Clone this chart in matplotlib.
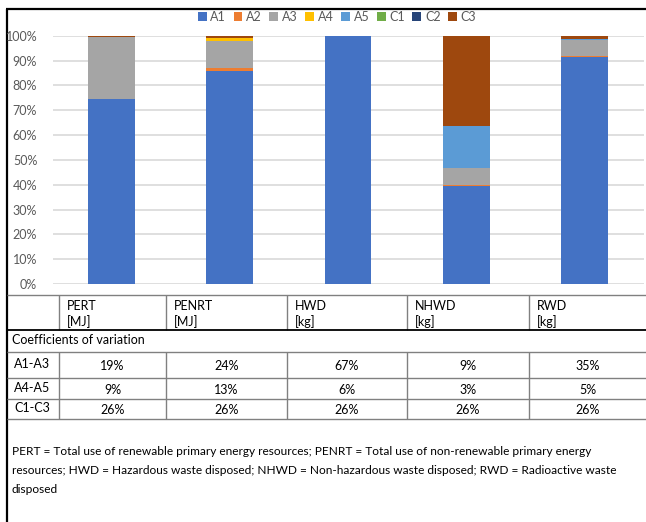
import matplotlib.pyplot as plt
from matplotlib.ticker import PercentFormatter

# data (share of each module, %)
categories = ['PERT', 'PENRT', 'HWD', 'NHWD', 'RWD']
units = ['[MJ]', '[MJ]', '[kg]', '[kg]', '[kg]']
series = ['A1', 'A2', 'A3', 'A4', 'A5', 'C1', 'C2', 'C3']
a1 = [74.4, 85.8, 99.9, 39.6, 91.6]
a2 = [0.3, 1.3, 0.0, 0.1, 0.2]
a3 = [24.8, 10.8, 0.0, 7.2, 6.3]
a4 = [0.0, 1.0, 0.0, 0.0, 0.0]
a5 = [0.1, 0.2, 0.0, 16.7, 0.6]
c1 = [0.0, 0.0, 0.0, 0.0, 0.0]
c2 = [0.0, 0.0, 0.0, 0.0, 0.0]
c3 = [0.4, 0.9, 0.1, 36.4, 1.3]
colors = ['#4472C4', '#ED7D31', '#A5A5A5', '#FFC000', '#5B9BD5', '#70AD47', '#264478', '#9E480E']

cv_rows = ['A1-A3', 'A4-A5', 'C1-C3']
cv_a1a3 = ['19%', '24%', '67%', '9%', '35%']
cv_a4a5 = ['9%', '13%', '6%', '3%', '5%']
cv_c1c3 = ['26%', '26%', '26%', '26%', '26%']
footnote = ('PERT = Total use of renewable primary energy resources; PENRT = Total use of non-renewable primary energy\n'
            'resources; HWD = Hazardous waste disposed; NHWD = Non-hazardous waste disposed; RWD = Radioactive waste\n'
            'disposed')

plt.rcParams['font.family'] = ['Lato', 'DejaVu Sans']

W, H = 646, 522
fig = plt.figure(figsize=(W / 100, H / 100), dpi=100)

# chart area in pixels
x0, x1, ytop, ybot = 52.5, 643.5, 35.7, 284
ax = fig.add_axes([x0 / W, 1 - ybot / H, (x1 - x0) / W, (ybot - ytop) / H])

values = [a1, a2, a3, a4, a5, c1, c2, c3]
bottom = [0.0] * len(categories)
xs = range(len(categories))
for name, vals, col in zip(series, values, colors):
    ax.bar(xs, vals, 0.396, bottom=bottom, color=col, label=name, zorder=3)
    bottom = [b + v for b, v in zip(bottom, vals)]

ax.set_xlim(-0.5, len(categories) - 0.5)
ax.set_ylim(0, 100)
ax.set_yticks(range(0, 101, 10))
ax.yaxis.set_major_formatter(PercentFormatter(decimals=0))
ax.tick_params(axis='y', length=0, pad=11, labelsize=9, labelcolor='#595959')
ax.set_xticks([])
ax.grid(axis='y', color='#D9D9D9', linewidth=1.2, zorder=0)
for s in ax.spines.values():
    s.set_visible(False)

fig.legend(loc='center', bbox_to_anchor=(337 / W, 1 - 17 / H), ncol=8, frameon=False,
           fontsize=9, handlelength=0.7, handleheight=0.7, handletextpad=0.3,
           columnspacing=0.6, labelcolor='#595959')

# overlay in pixel coordinates for border and table
ov = fig.add_axes([0, 0, 1, 1], zorder=-1)
ov.set_xlim(0, W)
ov.set_ylim(H, 0)
ov.axis('off')

def hline(y, xa=6.5, xb=W, c='#808080', lw=1.0):
    ov.plot([xa, xb], [y, y], color=c, lw=lw, solid_capstyle='butt')

def vline(x, ya, yb, c='#808080', lw=1.0):
    ov.plot([x, x], [ya, yb], color=c, lw=lw, solid_capstyle='butt')

# outer border
hline(8.5, 5.5, W, c='black', lw=1.6)
vline(6.5, 8.5, H, c='black', lw=1.6)

col_lines = [59, 166, 287, 407, 529]
col_right = col_lines[1:] + [W]
txt = dict(fontsize=9, color='black')

# header row
hline(295)
for x in col_lines:
    vline(x, 295, 330)
for x, cat, unit in zip(col_lines, categories, units):
    ov.text(x + 8, 306, cat, va='center', ha='left', **txt)
    ov.text(x + 8, 322, unit, va='center', ha='left', **txt)
hline(330, c='black', lw=1.3)

ov.text(12, 340, 'Coefficients of variation', va='center', ha='left', **txt)

row_lines = [352, 378, 399, 419]
for y in row_lines:
    hline(y)
for x in col_lines:
    vline(x, row_lines[0], row_lines[-1])
for i, (lab, vals) in enumerate(zip(cv_rows, [cv_a1a3, cv_a4a5, cv_c1c3])):
    yc = (row_lines[i] + row_lines[i + 1]) / 2 - 1
    ov.text(14, yc, lab, va='center', ha='left', **txt)
    for xl, xr, v in zip(col_lines, col_right, vals):
        ov.text((xl + xr) / 2, yc + 2, v, va='center', ha='center', **txt)

ov.text(12, 446, footnote, va='top', ha='left', linespacing=1.88,
        fontsize=8.6, color='black')

fig.savefig('out.png', dpi=100)
